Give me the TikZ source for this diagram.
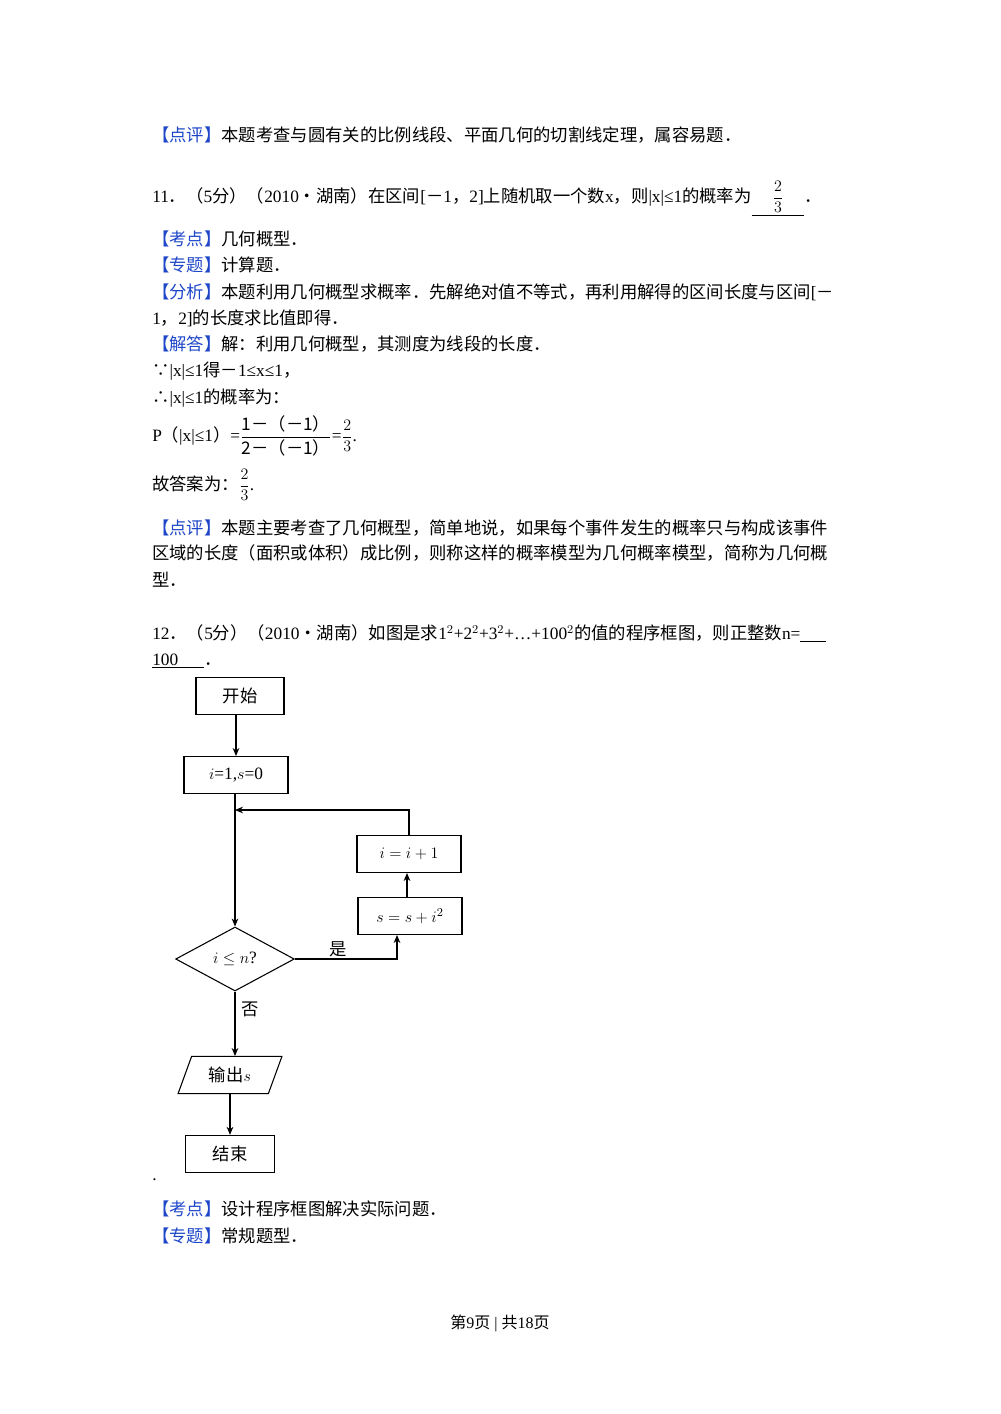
\documentclass[tikz,border=0pt]{standalone}
\usepackage{amsmath}
\usepackage{fontspec}
\setmainfont{Liberation Serif}
\newfontfamily\cjk{Noto Sans CJK SC}
\usetikzlibrary{shapes.geometric,arrows.meta}
\newcommand{\C}[1]{{\cjk #1}}
\definecolor{kb}{RGB}{30,70,200}
\newcommand{\K}[1]{{\cjk\color{kb}【#1】}}
\begin{document}
\begin{tikzpicture}[x=0.75pt,y=-0.75pt,
  tl/.style={anchor=base west,inner sep=0pt,font=\fontsize{13}{15}\selectfont},
  box/.style={draw,thick,minimum width=#1,minimum height=28pt,inner sep=0pt,font=\fontsize{13}{15}\selectfont},
  arr/.style={thick,-{Stealth[length=6pt,width=5pt]}},
  fl/.style={font=\fontsize{13}{15}\selectfont}]
\useasboundingbox (0,0) rectangle (1000,1414);
\node[tl] (l1) at (152,141) {\K{点评}\C{本题考查与圆有关的比例线段、平面几何的切割线定理，属容易题．}};
\node[tl] (l2) at (152,202) {11\C{．（}5\C{分）（}2010\C{•湖南）在区间}[\C{－}1\C{，}2]\C{上随机取一个数}x\C{，则}|x|≤1\C{的概率为}\underline{\hspace{1.2em}$\dfrac{2}{3}$\hspace{1.2em}}\C{．}};
\node[tl] (l3) at (152,245) {\K{考点}\C{几何概型．}};
\node[tl] (l4) at (152,271) {\K{专题}\C{计算题．}};
\node[tl] (l5) at (152,298) {\K{分析}\C{本题利用几何概型求概率．先解绝对值不等式，再利用解得的区间长度与区间}[\C{－}};
\node[tl] (l6) at (152,324) {1\C{，}2]\C{的长度求比值即得．}};
\node[tl] (l7) at (152,350) {\K{解答}\C{解：利用几何概型，其测度为线段的长度．}};
\node[tl] (l8) at (152,376) {\C{∵}|x|≤1\C{得－}1≤x≤1\C{，}};
\node[tl] (l9) at (152,403) {\C{∴}|x|≤1\C{的概率为：}};
\node[tl] (l10) at (152,441) {P\C{（}|x|≤1\C{）}=$\dfrac{\text{\C{1－（－1）}}}{\text{\C{2－（－1）}}}$=$\dfrac{2}{3}$.};
\node[tl] (l11) at (152,490) {\C{故答案为：}$\dfrac{2}{3}$.};
\node[tl] (l12) at (152,534) {\K{点评}\C{本题主要考查了几何概型，简单地说，如果每个事件发生的概率只与构成该事件}};
\node[tl] (l13) at (152,559) {\C{区域的长度（面积或体积）成比例，则称这样的概率模型为几何概率模型，简称为几何概}};
\node[tl] (l14) at (152,586) {\C{型．}};
\node[tl] (l15) at (152,639) {12\C{．（}5\C{分）（}2010\C{•湖南）如图是求}1$^2$+2$^2$+3$^2$+…+100$^2$\C{的值的程序框图，则正整数}n=\underline{\hspace{1.5em}}};
\node[tl] (l16) at (152,665) {\underline{100\hspace{1.5em}}\C{．}};
\node[tl] (dot) at (152,1180) {.};
\node[tl] (l17) at (152,1215) {\K{考点}\C{设计程序框图解决实际问题．}};
\node[tl] (l18) at (152,1242) {\K{专题}\C{常规题型．}};
\node[anchor=base,inner sep=0pt,font=\fontsize{12}{14}\selectfont] (ft) at (500,1328) {\C{第}9\C{页} | \C{共}18\C{页}};
% flowchart
\node[box=66pt] (start) at (240,696) {\C{开始}};
\node[box=78pt] (init) at (236,775) {$i$=1,$s$=0};
\node[box=78pt] (inc) at (409,854) {$i=i+1$};
\node[box=78pt] (sum) at (410,916) {$s=s+i^2$};
\node[draw,thick,diamond,aspect=1.85,minimum width=89pt,minimum height=48pt,inner sep=0pt,fl] (dec) at (235,959) {$i\le n$?};
\node[draw,thick,trapezium,trapezium left angle=65,trapezium right angle=115,trapezium stretches=true,minimum width=78pt,minimum height=28pt,inner sep=0pt,fl] (out) at (230,1075) {\C{输出}$s$};
\node[box=67pt] (end) at (230,1154) {\C{结束}};
\coordinate (lp) at (235,810);
\draw[arr] (236,715) -- (236,756);
\draw[arr] (235,793) -- (dec.north);
\draw[arr] (inc.north) |- (lp);
\draw[arr] (dec.east) -| (397,935);
\draw[arr] (407,897) -- (407,873);
\draw[arr] (dec.south) -- (235,1056);
\draw[arr] (230,1094) -- (end.north);
\node[fl] (yes) at (338,949) {\C{是}};
\node[fl] (no) at (250,1009) {\C{否}};
\end{tikzpicture}
\end{document}
